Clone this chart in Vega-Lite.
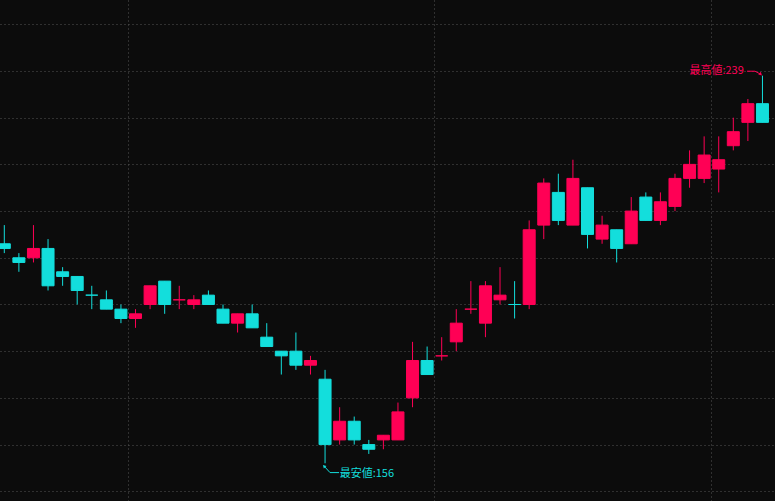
{
  "$schema": "https://vega.github.io/schema/vega-lite/v6.json",
  "width": 775,
  "height": 501,
  "autosize": {"type": "fit", "contains": "padding"},
  "padding": 0,
  "background": "#0c0c0c",
  "config": {"view": {"stroke": null}},
  "datasets": {
    "candles": [
      {"i": 0, "open": 203, "high": 207, "low": 201, "close": 202, "dir": "down"},
      {"i": 1, "open": 200, "high": 201, "low": 197, "close": 199, "dir": "down"},
      {"i": 2, "open": 200, "high": 207, "low": 199, "close": 202, "dir": "up"},
      {"i": 3, "open": 202, "high": 204, "low": 193, "close": 194, "dir": "down"},
      {"i": 4, "open": 197, "high": 198, "low": 194, "close": 196, "dir": "down"},
      {"i": 5, "open": 196, "high": 196, "low": 190, "close": 193, "dir": "down"},
      {"i": 6, "open": 192, "high": 194, "low": 189, "close": 192, "dir": "down"},
      {"i": 7, "open": 191, "high": 193, "low": 189, "close": 189, "dir": "down"},
      {"i": 8, "open": 189, "high": 190, "low": 186, "close": 187, "dir": "down"},
      {"i": 9, "open": 187, "high": 189, "low": 185, "close": 188, "dir": "up"},
      {"i": 10, "open": 190, "high": 194, "low": 189, "close": 194, "dir": "up"},
      {"i": 11, "open": 195, "high": 195, "low": 188, "close": 190, "dir": "down"},
      {"i": 12, "open": 191, "high": 194, "low": 189, "close": 191, "dir": "up"},
      {"i": 13, "open": 190, "high": 192, "low": 189, "close": 191, "dir": "up"},
      {"i": 14, "open": 192, "high": 193, "low": 190, "close": 190, "dir": "down"},
      {"i": 15, "open": 189, "high": 190, "low": 186, "close": 186, "dir": "down"},
      {"i": 16, "open": 186, "high": 188, "low": 184, "close": 188, "dir": "up"},
      {"i": 17, "open": 188, "high": 190, "low": 185, "close": 185, "dir": "down"},
      {"i": 18, "open": 183, "high": 186, "low": 181, "close": 181, "dir": "down"},
      {"i": 19, "open": 180, "high": 180, "low": 175, "close": 179, "dir": "down"},
      {"i": 20, "open": 180, "high": 184, "low": 176, "close": 177, "dir": "down"},
      {"i": 21, "open": 177, "high": 179, "low": 175, "close": 178, "dir": "up"},
      {"i": 22, "open": 174, "high": 176, "low": 156, "close": 160, "dir": "down"},
      {"i": 23, "open": 161, "high": 168, "low": 160, "close": 165, "dir": "up"},
      {"i": 24, "open": 165, "high": 166, "low": 160, "close": 161, "dir": "down"},
      {"i": 25, "open": 160, "high": 161, "low": 158, "close": 159, "dir": "down"},
      {"i": 26, "open": 161, "high": 162, "low": 159, "close": 162, "dir": "up"},
      {"i": 27, "open": 161, "high": 169, "low": 161, "close": 167, "dir": "up"},
      {"i": 28, "open": 170, "high": 182, "low": 168, "close": 178, "dir": "up"},
      {"i": 29, "open": 178, "high": 181, "low": 175, "close": 175, "dir": "down"},
      {"i": 30, "open": 179, "high": 183, "low": 178, "close": 179, "dir": "up"},
      {"i": 31, "open": 182, "high": 189, "low": 180, "close": 186, "dir": "up"},
      {"i": 32, "open": 189, "high": 195, "low": 188, "close": 189, "dir": "up"},
      {"i": 33, "open": 186, "high": 195, "low": 183, "close": 194, "dir": "up"},
      {"i": 34, "open": 191, "high": 198, "low": 190, "close": 192, "dir": "up"},
      {"i": 35, "open": 190, "high": 195, "low": 187, "close": 190, "dir": "down"},
      {"i": 36, "open": 190, "high": 208, "low": 189, "close": 206, "dir": "up"},
      {"i": 37, "open": 207, "high": 217, "low": 204, "close": 216, "dir": "up"},
      {"i": 38, "open": 214, "high": 218, "low": 207, "close": 208, "dir": "down"},
      {"i": 39, "open": 207, "high": 221, "low": 207, "close": 217, "dir": "up"},
      {"i": 40, "open": 215, "high": 215, "low": 202, "close": 205, "dir": "down"},
      {"i": 41, "open": 204, "high": 209, "low": 203, "close": 207, "dir": "up"},
      {"i": 42, "open": 206, "high": 206, "low": 199, "close": 202, "dir": "down"},
      {"i": 43, "open": 203, "high": 213, "low": 203, "close": 210, "dir": "up"},
      {"i": 44, "open": 213, "high": 214, "low": 208, "close": 208, "dir": "down"},
      {"i": 45, "open": 208, "high": 214, "low": 207, "close": 212, "dir": "up"},
      {"i": 46, "open": 211, "high": 218, "low": 210, "close": 217, "dir": "up"},
      {"i": 47, "open": 217, "high": 223, "low": 215, "close": 220, "dir": "up"},
      {"i": 48, "open": 217, "high": 226, "low": 216, "close": 222, "dir": "up"},
      {"i": 49, "open": 219, "high": 226, "low": 214, "close": 221, "dir": "up"},
      {"i": 50, "open": 224, "high": 230, "low": 223, "close": 227, "dir": "up"},
      {"i": 51, "open": 229, "high": 234, "low": 225, "close": 233, "dir": "up"},
      {"i": 52, "open": 233, "high": 239, "low": 229, "close": 229, "dir": "down"}
    ],
    "labels": [
      {"i": 23.0, "price": 153.8, "text": "最安値:156", "dir": "down", "side": "low"},
      {"i": 50.72, "price": 240.1, "text": "最高値:239", "dir": "up", "side": "high"}
    ],
    "leaders": [
      {"i": 21.93, "price": 155.4, "order": 0, "dir": "down", "side": "low"},
      {"i": 22.34, "price": 154.0, "order": 1, "dir": "down", "side": "low"},
      {"i": 22.96, "price": 154.0, "order": 2, "dir": "down", "side": "low"},
      {"i": 50.94, "price": 239.95, "order": 0, "dir": "up", "side": "high"},
      {"i": 51.49, "price": 239.95, "order": 1, "dir": "up", "side": "high"},
      {"i": 51.88, "price": 239.3, "order": 2, "dir": "up", "side": "high"}
    ]
  },
  "encoding": {
    "x": {
      "field": "i",
      "type": "quantitative",
      "scale": {"domain": [-0.295, 52.86], "nice": false, "zero": false, "padding": 0},
      "axis": {
        "values": [8.5, 29.5, 48.5],
        "grid": true,
        "gridColor": "#555555",
        "gridDash": [1, 3],
        "gridWidth": 1,
        "labels": false,
        "ticks": false,
        "domain": false,
        "title": null
      }
    }
  },
  "layer": [
    {
      "data": {"name": "candles"},
      "mark": {"type": "rule", "strokeWidth": 1, "clip": true},
      "encoding": {
        "y": {
          "field": "low",
          "type": "quantitative",
          "scale": {"domain": [147.92, 255.2], "nice": false, "zero": false},
          "axis": {
            "values": [150, 160, 170, 180, 190, 200, 210, 220, 230, 240, 250],
            "grid": true,
            "gridColor": "#555555",
            "gridDash": [1, 3],
            "gridWidth": 1,
            "labels": false,
            "ticks": false,
            "domain": false,
            "title": null
          }
        },
        "y2": {"field": "high"},
        "color": {
          "field": "dir",
          "type": "nominal",
          "scale": {"domain": ["up", "down"], "range": ["#ff0055", "#13dedc"]},
          "legend": null
        }
      }
    },
    {
      "data": {"name": "candles"},
      "mark": {"type": "bar", "size": 12, "strokeWidth": 1, "clip": true},
      "encoding": {
        "y": {"field": "open", "type": "quantitative", "scale": {"domain": [147.92, 255.2], "nice": false, "zero": false}},
        "y2": {"field": "close"},
        "color": {
          "field": "dir",
          "type": "nominal",
          "scale": {"domain": ["up", "down"], "range": ["#ff0055", "#13dedc"]},
          "legend": null
        },
        "stroke": {
          "field": "dir",
          "type": "nominal",
          "scale": {"domain": ["up", "down"], "range": ["#ff0055", "#13dedc"]},
          "legend": null
        }
      }
    },
    {
      "data": {"name": "leaders"},
      "mark": {"type": "line", "strokeWidth": 1, "clip": true},
      "encoding": {
        "y": {"field": "price", "type": "quantitative", "scale": {"domain": [147.92, 255.2], "nice": false, "zero": false}},
        "order": {"field": "order", "type": "quantitative"},
        "detail": {"field": "side", "type": "nominal"},
        "color": {
          "field": "dir",
          "type": "nominal",
          "scale": {"domain": ["up", "down"], "range": ["#ff0055", "#13dedc"]},
          "legend": null
        }
      }
    },
    {
      "data": {"name": "leaders"},
      "transform": [{"filter": "datum.order == 0 && datum.side == 'low'"}],
      "mark": {"type": "point", "shape": "triangle-up", "filled": true, "opacity": 1, "size": 14, "angle": -45},
      "encoding": {
        "y": {"field": "price", "type": "quantitative", "scale": {"domain": [147.92, 255.2], "nice": false, "zero": false}},
        "color": {
          "field": "dir",
          "type": "nominal",
          "scale": {"domain": ["up", "down"], "range": ["#ff0055", "#13dedc"]},
          "legend": null
        }
      }
    },
    {
      "data": {"name": "leaders"},
      "transform": [{"filter": "datum.order == 2 && datum.side == 'high'"}],
      "mark": {"type": "point", "shape": "triangle-up", "filled": true, "opacity": 1, "size": 14, "angle": 135},
      "encoding": {
        "y": {"field": "price", "type": "quantitative", "scale": {"domain": [147.92, 255.2], "nice": false, "zero": false}},
        "color": {
          "field": "dir",
          "type": "nominal",
          "scale": {"domain": ["up", "down"], "range": ["#ff0055", "#13dedc"]},
          "legend": null
        }
      }
    },
    {
      "data": {"name": "labels"},
      "transform": [{"filter": "datum.side == 'low'"}],
      "mark": {"type": "text", "align": "left", "baseline": "middle", "font": "Noto Sans CJK JP", "fontSize": 11},
      "encoding": {
        "y": {"field": "price", "type": "quantitative", "scale": {"domain": [147.92, 255.2], "nice": false, "zero": false}},
        "text": {"field": "text"},
        "color": {
          "field": "dir",
          "type": "nominal",
          "scale": {"domain": ["up", "down"], "range": ["#ff0055", "#13dedc"]},
          "legend": null
        }
      }
    },
    {
      "data": {"name": "labels"},
      "transform": [{"filter": "datum.side == 'high'"}],
      "mark": {"type": "text", "align": "right", "baseline": "middle", "font": "Noto Sans CJK JP", "fontSize": 11},
      "encoding": {
        "y": {"field": "price", "type": "quantitative", "scale": {"domain": [147.92, 255.2], "nice": false, "zero": false}},
        "text": {"field": "text"},
        "color": {
          "field": "dir",
          "type": "nominal",
          "scale": {"domain": ["up", "down"], "range": ["#ff0055", "#13dedc"]},
          "legend": null
        }
      }
    }
  ]
}
